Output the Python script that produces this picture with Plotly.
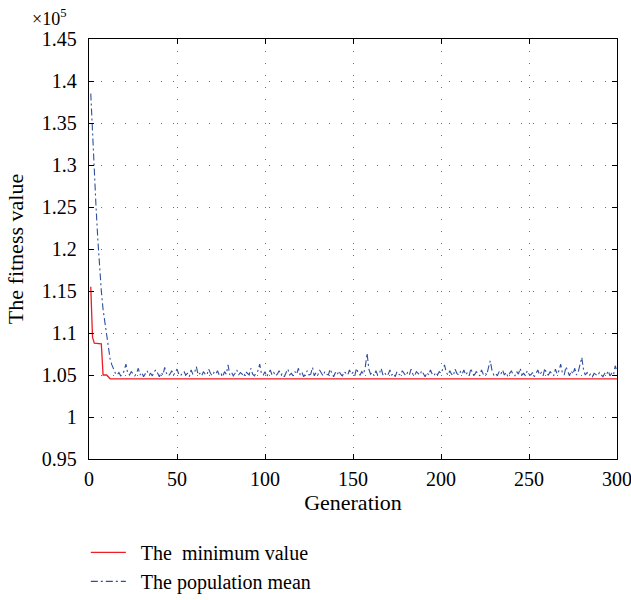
import plotly.graph_objects as go

# Minimum value (units of 1e5) at the generations where it changes
min_gen = [1, 2, 3, 7, 8, 10, 12, 300]
min_val = [1.155, 1.095, 1.088, 1.087, 1.050, 1.050, 1.0455, 1.0455]

# Population mean (units of 1e5), generation 1..300
mean_gen = list(range(1, 301))
mean_val = [
    1.385, 1.335, 1.290, 1.250, 1.212, 1.178, 1.150, 1.128, 1.112, 1.098, 1.080, 1.069, 1.062,
    1.056, 1.052, 1.050, 1.053, 1.049, 1.051, 1.055, 1.063, 1.052, 1.050, 1.054, 1.051, 1.049, 1.052, 1.058, 1.050, 1.053, 1.048, 1.051, 1.055,
    1.050, 1.052, 1.049, 1.054, 1.056, 1.051, 1.048, 1.053, 1.050, 1.059, 1.052, 1.049, 1.051, 1.055, 1.050, 1.053, 1.057, 1.051, 1.049, 1.052,
    1.054, 1.050, 1.052, 1.048, 1.056, 1.051, 1.053, 1.060, 1.050, 1.052, 1.049, 1.054, 1.051, 1.050, 1.057, 1.052, 1.049, 1.053, 1.051, 1.055,
    1.050, 1.052, 1.048, 1.054, 1.051, 1.062, 1.050, 1.053, 1.049, 1.052, 1.056, 1.050, 1.053, 1.051, 1.048, 1.054, 1.052, 1.050, 1.058, 1.051,
    1.049, 1.053, 1.055, 1.063, 1.051, 1.050, 1.054, 1.048, 1.052, 1.056, 1.050, 1.053, 1.049, 1.051, 1.055, 1.050, 1.052, 1.048, 1.053, 1.057,
    1.050, 1.052, 1.049, 1.054, 1.051, 1.058, 1.050, 1.053, 1.048, 1.052, 1.055, 1.050, 1.051, 1.059, 1.049, 1.053, 1.050, 1.056, 1.052, 1.049,
    1.054, 1.051, 1.050, 1.057, 1.052, 1.048, 1.053, 1.050, 1.055, 1.051, 1.049, 1.054, 1.052, 1.050, 1.056, 1.051, 1.053, 1.049, 1.058, 1.052,
    1.050, 1.054, 1.051, 1.060, 1.076, 1.057, 1.051, 1.053, 1.049, 1.055, 1.050, 1.052, 1.058, 1.050, 1.053, 1.049, 1.051, 1.056, 1.050, 1.052,
    1.048, 1.054, 1.051, 1.050, 1.055, 1.052, 1.049, 1.053, 1.050, 1.057, 1.051, 1.049, 1.054, 1.052, 1.050, 1.055, 1.051, 1.048, 1.053, 1.050,
    1.056, 1.051, 1.049, 1.053, 1.050, 1.054, 1.052, 1.058, 1.062, 1.053, 1.050, 1.055, 1.051, 1.049, 1.057, 1.052, 1.050, 1.054, 1.051, 1.056,
    1.050, 1.053, 1.049, 1.058, 1.051, 1.050, 1.054, 1.052, 1.049, 1.056, 1.051, 1.053, 1.050, 1.059, 1.067, 1.055, 1.050, 1.052, 1.049, 1.054,
    1.051, 1.056, 1.050, 1.053, 1.048, 1.052, 1.055, 1.050, 1.049, 1.054, 1.051, 1.058, 1.050, 1.052, 1.049, 1.055, 1.051, 1.050, 1.053, 1.048,
    1.052, 1.056, 1.050, 1.053, 1.049, 1.058, 1.051, 1.050, 1.054, 1.052, 1.049, 1.057, 1.051, 1.055, 1.063, 1.052, 1.050, 1.060, 1.053, 1.049,
    1.055, 1.051, 1.058, 1.050, 1.054, 1.062, 1.071, 1.056, 1.050, 1.053, 1.049, 1.051, 1.048, 1.052, 1.050, 1.049, 1.053, 1.051, 1.048, 1.052,
    1.050, 1.055, 1.049, 1.052, 1.050, 1.061, 1.054,
]

x_ticks = [0, 50, 100, 150, 200, 250, 300]
y_ticks = [0.95, 1.0, 1.05, 1.1, 1.15, 1.2, 1.25, 1.3, 1.35, 1.4, 1.45]
y_labels = ["0.95", "1", "1.05", "1.1", "1.15", "1.2", "1.25", "1.3", "1.35", "1.4", "1.45"]

series_names = ["\u00a0\u00a0The\u00a0 minimum value", "\u00a0\u00a0The population mean"]

FONT = "Liberation Serif, Times New Roman, serif"
FS = 20
FT = 22

fig = go.Figure()
fig.add_trace(go.Scatter(x=min_gen, y=min_val, mode="lines", name=series_names[0],
                         line=dict(color="#ee1c24", width=1.3)))
fig.add_trace(go.Scatter(x=mean_gen, y=mean_val, mode="lines", name=series_names[1],
                         line=dict(color="#2e4fa0", width=1.1, dash="7px,3px,2px,3px")))

axis_common = dict(showline=True, linecolor="black", linewidth=1.3, mirror="ticks",
                   ticks="inside", ticklen=5, tickcolor="black", tickwidth=1.3,
                   showgrid=True, gridcolor="#707070", gridwidth=1, griddash="1px,11px",
                   zeroline=False, automargin=False, ticklabeloverflow="allow",
                   tickfont=dict(family=FONT, size=FS, color="black"))

fig.update_xaxes(range=[0, 300], tickvals=x_ticks, ticktext=[str(v) for v in x_ticks],
                 ticklabelstandoff=2,
                 title=dict(text="Generation", font=dict(family=FONT, size=FT, color="black"), standoff=4),
                 **axis_common)
fig.update_yaxes(range=[0.95, 1.45], tickvals=y_ticks, ticktext=y_labels,
                 ticklabelstandoff=7,
                 title=dict(text="The fitness value", font=dict(family=FONT, size=FT, color="black"), standoff=12),
                 **axis_common)

fig.add_annotation(text="×10<sup>5</sup>", xref="paper", yref="paper", x=-0.04, y=1.0,
                   xanchor="right", yanchor="bottom", yshift=8, showarrow=False,
                   font=dict(family=FONT, size=18, color="black"))

# figure is a little taller than the window so the legend never pushes the plot margins;
# the page is clipped to the 631x600 window
fig.update_layout(
    width=631, height=640,
    margin=dict(l=89, r=14, t=39, b=181),
    paper_bgcolor="white", plot_bgcolor="white",
    font=dict(family=FONT, size=FS, color="black"),
    showlegend=True,
    legend=dict(x=-0.006, y=-0.176, xanchor="left", yanchor="top", bgcolor="rgba(0,0,0,0)",
                font=dict(family=FONT, size=20, color="black"), tracegroupgap=0, itemwidth=35),
)

fig.write_html("out.html", config={"displayModeBar": False},
               post_script="document.body.style.margin='0';"
               "document.body.style.overflow='hidden';"
               "document.documentElement.style.overflow='hidden';")
